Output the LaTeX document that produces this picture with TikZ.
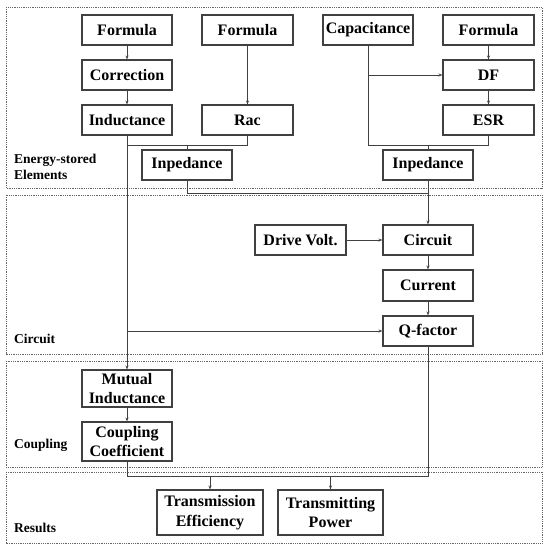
\documentclass[tikz,border=0pt]{standalone}
\usepackage{fontspec}
\setmainfont{Liberation Serif}
\usetikzlibrary{arrows.meta}
\definecolor{ln}{HTML}{404040}
\tikzset{
  box/.style={draw=ln,line width=1.1pt,fill=white,minimum width=90pt,minimum height=30pt,inner sep=1pt,font=\fontsize{16}{19.5}\selectfont\bfseries,align=center,text=black},
  panel/.style={draw=ln!80,line width=0.8pt,dash pattern=on 0.9pt off 0.9pt},
  lab/.style={anchor=west,font=\fontsize{13.5}{16}\selectfont\bfseries,align=left,inner sep=0pt},
  wire/.style={draw=ln,line width=1pt},
  arr/.style={wire,-{Stealth[length=4pt,width=3pt]}}
}
\begin{document}
\begin{tikzpicture}[x=1pt,y=-1pt]
\useasboundingbox (0,0) rectangle (550,549);
% panels
\draw[panel] (6,7) rectangle (542,188);
\draw[panel] (6,195) rectangle (542,354);
\draw[panel] (6,361) rectangle (542,467);
\draw[panel] (6,472) rectangle (542,543);
\node[lab] (l1) at (14,166.5) {Energy-stored\\Elements};
\node[lab] (l2) at (14,339) {Circuit};
\node[lab] (l3) at (14,445) {Coupling};
\node[lab] (l4) at (14,528) {Results};
% boxes
\node[box] (f1) at (127,30) {Formula};
\node[box,minimum width=91pt] (f2) at (247.5,30) {Formula};
\node[box] (cap) at (368,30) {Capacitance};
\node[box,minimum width=91pt] (f3) at (488.5,30) {Formula};
\node[box] (corr) at (127,75) {Correction};
\node[box,minimum width=91pt] (df) at (488.5,75) {DF};
\node[box] (ind) at (127,120) {Inductance};
\node[box,minimum width=91pt] (rac) at (247.5,120) {Rac};
\node[box,minimum width=91pt] (esr) at (488.5,120) {ESR};
\node[box] (imp1) at (187,165) {Inpedance};
\node[box] (imp2) at (428,165) {Inpedance};
\node[box,minimum width=91pt] (drv) at (300.5,240) {Drive Volt.};
\node[box] (circ) at (428,240) {Circuit};
\node[box,minimum height=31pt] (cur) at (428,285.5) {Current};
\node[box] (qf) at (428,331) {Q-factor};
\node[box,minimum height=37pt] (mut) at (127,388.5) {Mutual\\Inductance};
\node[box,minimum height=39pt] (coup) at (127,441.5) {Coupling\\Coefficient};
\node[box,minimum width=106pt,minimum height=45pt] (te) at (210,512.5) {Transmission\\Efficiency};
\node[box,minimum width=105pt,minimum height=45pt] (tp) at (330.5,512.5) {Transmitting\\Power};
% junction coordinates
\coordinate (jL) at (127,145);
\coordinate (jLm) at (187,145);
\coordinate (jLr) at (247.5,145);
\coordinate (jR) at (368,145);
\coordinate (jRm) at (428,145);
\coordinate (jRr) at (488.5,145);
\coordinate (jdf) at (368,75);
\coordinate (jimp) at (187,193);
\coordinate (jc) at (428,193);
\coordinate (jq) at (127,331);
\coordinate (jb1) at (127,476);
\coordinate (jb2) at (428,476);
\coordinate (jte) at (210,476);
\coordinate (jtp) at (330.5,476);
% connectors
\draw[arr] (f1) -- (corr);
\draw[arr] (corr) -- (ind);
\draw[arr] (f2) -- (rac);
\draw[arr] (f3) -- (df);
\draw[arr] (df) -- (esr);
\draw[wire] (cap.south) -- (jR) -- (jRr) -- (esr.south);
\draw[arr] (jdf) -- (df.west);
\draw[wire] (jRm) -- (imp2.north);
\draw[wire] (ind.south) -- (jL) -- (jLr) -- (rac.south);
\draw[wire] (jLm) -- (imp1.north);
\draw[arr] (ind.south) -- (mut.north);
\draw[arr] (jq) -- (qf.west);
\draw[wire] (imp1.south) -- (jimp) -- (jc);
\draw[arr] (imp2.south) -- (circ.north);
\draw[arr] (drv) -- (circ);
\draw[arr] (circ) -- (cur);
\draw[arr] (cur) -- (qf);
\draw[arr] (mut) -- (coup);
\draw[wire] (coup.south) -- (jb1) -- (jb2) -- (qf.south);
\draw[arr] (jte) -- (te.north);
\draw[arr] (jtp) -- (tp.north);
\end{tikzpicture}
\end{document}
